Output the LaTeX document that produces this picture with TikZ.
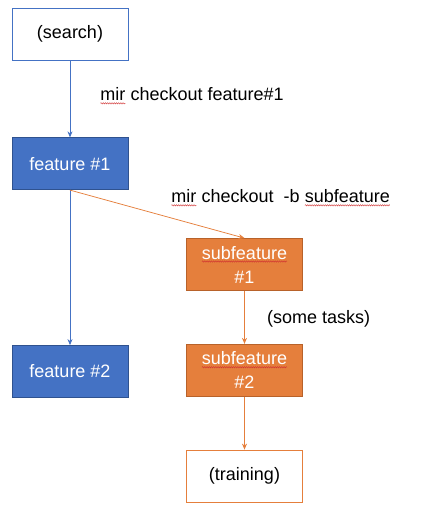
\documentclass[tikz,border=0pt]{standalone}
\usepackage{fontspec}
\setmainfont{Liberation Sans}
\usetikzlibrary{arrows.meta, positioning, decorations.pathmorphing}
\definecolor{fblue}{HTML}{4472C4}
\definecolor{fblueline}{HTML}{2F528F}
\definecolor{forange}{HTML}{E57F3C}
\definecolor{forangeline}{HTML}{B8622A}
\definecolor{spellred}{HTML}{D03030}
% red wavy spell-check mark under a word
\newcommand\spellwave[1]{\tikz[baseline=(w.base)]{%
  \node[inner sep=0pt, outer sep=0pt, minimum size=0pt, draw=none,
        fill=none, anchor=base, rectangle] (w) {#1};
  \draw[spellred, line width=0.4pt, decorate,
        decoration={snake, amplitude=0.7pt, segment length=2.2pt}]
    ([yshift=-2.5pt]w.base west) -- ([yshift=-2.5pt]w.base east);}}

\begin{document}
\begin{tikzpicture}[
    x=1pt, y=1pt, >={Stealth[length=6pt, width=5pt]},
    boxbase/.style={minimum width=116pt, minimum height=52pt,
                    line width=0.75pt, align=center,
                    font=\fontsize{18}{24}\selectfont},
    plainbox/.style={boxbase, draw=fblue},
    bluebox/.style={boxbase, draw=fblueline, fill=fblue, text=white},
    orangebox/.style={boxbase, draw=forangeline, fill=forange, text=white},
    orangeplain/.style={boxbase, draw=forange},
    steptext/.style={anchor=west, inner sep=0pt,
                     font=\fontsize{18}{24}\selectfont},
    blueline/.style={draw=fblue, line width=0.75pt, ->},
    orangeline/.style={draw=forange, line width=0.75pt, ->}
  ]
  \useasboundingbox (0,0) rectangle (428,512);

  \node[plainbox] (search) at (70,478) {(search)};
  \node[bluebox, below=77pt of search] (feat1) {feature \#1};
  \node[bluebox, below=155pt of feat1] (feat2) {feature \#2};
  \node[orangebox] (sub1) at (244.5,247.5) {\spellwave{subfeature}\\\#1};
  \node[orangebox, below=53pt of sub1] (sub2) {\spellwave{subfeature}\\\#2};
  \node[orangeplain, below=53pt of sub2] (train) {(training)};

  \node[steptext] (co1) at (100,416) {\spellwave{mir} checkout feature\#1};
  \node[steptext] (co2) at (171,314) {\spellwave{mir} checkout \ -b \spellwave{subfeature}};
  \node[steptext] (tasks) at (267,193) {(some tasks)};

  \draw[blueline] (search) -- (feat1);
  \draw[blueline] (feat1) -- (feat2);
  \draw[orangeline] (feat1.south) -- (sub1.north);
  \draw[orangeline] (sub1) -- (sub2);
  \draw[orangeline] (sub2) -- (train);
\end{tikzpicture}
\end{document}
